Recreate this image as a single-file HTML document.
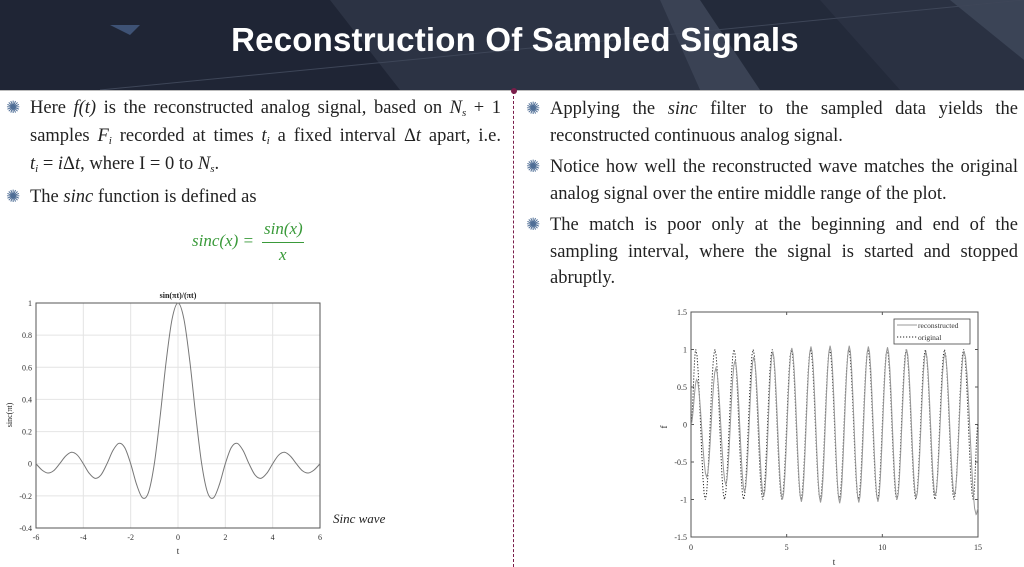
<!DOCTYPE html>
<html><head><meta charset="utf-8">
<style>
html,body{margin:0;padding:0;width:1024px;height:567px;overflow:hidden;background:#fff;font-family:"Liberation Serif",serif;}
#header{position:absolute;left:0;top:0;width:1024px;height:90px;background:#232a3a;overflow:hidden;}
#title{position:absolute;left:0;top:21px;width:1030px;text-align:center;color:#fff;font-family:"Liberation Sans",sans-serif;font-weight:bold;font-size:33px;letter-spacing:0.2px;}
.col{position:absolute;font-size:18.5px;line-height:26.5px;color:#222;text-align:justify;}
.b{position:relative;margin-bottom:5px;}
.ico{position:absolute;left:-24px;top:0;color:#4f6e96;font-size:17px;font-family:"DejaVu Sans",sans-serif;}
sub{font-size:11px;line-height:0;vertical-align:-3px;}
.g{color:#3a9a3a;font-style:italic;}
svg text{font-family:"Liberation Serif",serif;}
</style></head><body>
<div id="header">
<svg width="1024" height="90" style="position:absolute;left:0;top:0">
<polygon points="0,0 330,0 520,90 0,90" fill="#1f2535"/>
<polygon points="110,25 140,25 130,35" fill="#3e5275"/>
<polygon points="330,0 660,0 700,90 400,90" fill="#2c3344"/>
<polygon points="660,0 700,0 760,90 700,90" fill="#3a4254"/>
<polygon points="820,0 1024,0 1024,90 900,90" fill="#2a3142"/>
<polygon points="950,0 1024,0 1024,60" fill="#3b4456"/>
<line x1="100" y1="90" x2="1024" y2="0" stroke="#3e4658" stroke-width="1"/>
</svg>
<div id="title">Reconstruction Of Sampled Signals</div>
</div>
<div style="position:absolute;left:0;top:90px;width:1024px;height:1px;background:#bbb"></div>
<div style="position:absolute;left:513px;top:91px;height:476px;border-left:1.5px dashed #7a1d4a"></div>
<div style="position:absolute;left:511px;top:88px;width:6px;height:6px;border-radius:3px;background:#7a1d4a"></div>

<div class="col" style="left:30px;top:94px;width:471px;line-height:28px">
<div class="b"><span class="ico">✺</span>Here <i>f(t)</i> is the reconstructed analog signal, based on <i>N<sub>s</sub></i> + 1 samples <i>F<sub>i</sub></i> recorded at times <i>t<sub>i</sub></i> a fixed interval Δ<i>t</i> apart, i.e. <span style="white-space:nowrap"><i>t<sub>i</sub></i> = <i>i</i>Δ<i>t</i>,</span> where I = 0 to <i>N<sub>s</sub></i>.</div>
<div class="b"><span class="ico">✺</span>The <i>sinc</i> function is defined as</div>
</div>
<div style="position:absolute;left:192px;top:222px;font-size:17px;" class="g">
<span style="position:absolute;left:0;top:9px;white-space:nowrap">sinc(x) =</span>
<span style="position:absolute;left:72px;top:-3px;white-space:nowrap">sin(x)</span>
<span style="position:absolute;left:70px;top:20px;width:42px;border-top:1px solid #3a9a3a"></span>
<span style="position:absolute;left:87px;top:23px">x</span>
</div>

<div class="col" style="left:550px;top:96px;width:468px">
<div class="b"><span class="ico">✺</span>Applying the <i>sinc</i> filter to the sampled data yields the reconstructed continuous analog signal.</div>
<div class="b"><span class="ico">✺</span>Notice how well the reconstructed wave matches the original analog signal over the entire middle range of the plot.</div>
<div class="b"><span class="ico">✺</span>The match is poor only at the beginning and end of the sampling interval, where the signal is started and stopped abruptly.</div>
</div>
<div style="position:absolute;left:333px;top:511px;font-size:13px;font-style:italic;color:#222">Sinc wave</div>

<svg id="c1" width="1024" height="567" style="position:absolute;left:0;top:0"></svg>

<script>
// ---- Sinc chart data ----
const sincT = [-6,-5.75,-5.5,-5.25,-5,-4.75,-4.5,-4.25,-4,-3.75,-3.5,-3.25,-3,-2.75,-2.5,-2.25,-2,-1.75,-1.5,-1.25,-1,-0.75,-0.5,-0.25,0,0.25,0.5,0.75,1,1.25,1.5,1.75,2,2.25,2.5,2.75,3,3.25,3.5,3.75,4,4.25,4.5,4.75,5,5.25,5.5,5.75,6];
const sincV = [0,-0.039,-0.058,-0.043,0,0.047,0.071,0.053,0,-0.060,-0.091,-0.069,0,0.082,0.127,0.100,0,-0.129,-0.212,-0.180,0,0.300,0.637,0.900,1,0.900,0.637,0.300,0,-0.180,-0.212,-0.129,0,0.100,0.127,0.082,0,-0.069,-0.091,-0.060,0,0.053,0.071,0.047,0,-0.043,-0.058,-0.039,0];
const sincXTicks = [-6,-4,-2,0,2,4,6];
const sincYTicks = [-0.4,-0.2,0,0.2,0.4,0.6,0.8,1];
const sincYLabels = ["-0.4","-0.2","0","0.2","0.4","0.6","0.8","1"];
// ---- Reconstruction chart data ----
const origT = [0,0.25,0.75,1.25,1.75,2.25,2.75,3.25,3.75,4.25,4.75,5.25,5.75,6.25,6.75,7.25,7.75,8.25,8.75,9.25,9.75,10.25,10.75,11.25,11.75,12.25,12.75,13.25,13.75,14.25,14.75,15];
const origV = [0,1,-1,1,-1,1,-1,1,-1,1,-1,1,-1,1,-1,1,-1,1,-1,1,-1,1,-1,1,-1,1,-1,1,-1,1,-1,0];
const recT = [0,0.3,0.82,1.3,1.82,2.3,2.8,3.28,3.8,4.27,4.78,5.27,5.77,6.27,6.77,7.27,7.77,8.27,8.77,9.27,9.77,10.27,10.77,11.27,11.77,12.27,12.77,13.27,13.77,14.27,14.9,15];
const recV = [0,0.6,-0.7,0.75,-0.8,0.85,-0.9,0.9,-0.96,0.97,-1.0,1.02,-1.03,1.04,-1.04,1.05,-1.05,1.05,-1.04,1.04,-1.03,1.03,-1.0,1.0,-0.98,0.97,-0.95,0.95,-0.94,0.98,-1.2,-1.12];
const recXTicks = [0,5,10,15];
const recYTicks = [-1.5,-1,-0.5,0,0.5,1,1.5];
const recYLabels = ["-1.5","-1","-0.5","0","0.5","1","1.5"];

const NS='http://www.w3.org/2000/svg';
const svg=document.getElementById('c1');
function mk(tag,attrs,parent){const e=document.createElementNS(NS,tag);for(const k in attrs)e.setAttribute(k,attrs[k]);(parent||svg).appendChild(e);return e;}

const x1=v=>36+(v+6)/12*(320-36);
const y1=v=>528-(v+0.4)/1.4*(528-303);
sincXTicks.forEach(t=>{
  const l=mk('line',{x1:x1(t),x2:x1(t),y1:303,y2:528,stroke:'#e4e4e4','stroke-width':1});
  
  
  const tx=mk('text',{x:x1(t),y:540,'font-size':8,'text-anchor':'middle',fill:'#333'});tx.textContent=t;
  
  
});
sincYTicks.forEach((t,i)=>{
  const l=mk('line',{x1:36,x2:320,y1:y1(t),y2:y1(t),stroke:'#e4e4e4','stroke-width':1});
  
  
  const tx=mk('text',{x:32,y:y1(t)+3,'font-size':8,'text-anchor':'end',fill:'#333'});tx.textContent=sincYLabels[i];
  
  
});
let r=mk('rect',{x:36,y:303,width:284,height:225,fill:'none',stroke:'#555','stroke-width':1});


function smooth(xs,ys,fx,fy){let d='M'+fx(xs[0])+','+fy(ys[0]);
  for(let i=0;i<xs.length-1;i++){const p0=[fx(xs[Math.max(0,i-1)]),fy(ys[Math.max(0,i-1)])],p1=[fx(xs[i]),fy(ys[i])],p2=[fx(xs[i+1]),fy(ys[i+1])],p3=[fx(xs[Math.min(xs.length-1,i+2)]),fy(ys[Math.min(xs.length-1,i+2)])];
  d+=' C'+(p1[0]+(p2[0]-p0[0])/6)+','+(p1[1]+(p2[1]-p0[1])/6)+' '+(p2[0]-(p3[0]-p1[0])/6)+','+(p2[1]-(p3[1]-p1[1])/6)+' '+p2[0]+','+p2[1];}
  return d;}
let p=mk('path',{d:smooth(sincT,sincV,x1,y1),fill:'none',stroke:'#777','stroke-width':1});


let tt=mk('text',{x:178,y:298,'font-size':8,'font-weight':'bold','text-anchor':'middle',fill:'#222'});tt.textContent='sin(πt)/(πt)';


let xl=mk('text',{x:178,y:554,'font-size':9,'text-anchor':'middle',fill:'#222'});xl.textContent='t';


let yl=mk('text',{x:12,y:415,'font-size':8,'text-anchor':'middle',fill:'#222',transform:'rotate(-90 12 415)'});yl.textContent='sinc(πt)';



const x2=v=>691+v/15*(978-691);
const y2=v=>424.5-v*75;
recXTicks.forEach(t=>{
  mk('line',{x1:x2(t),x2:x2(t),y1:537,y2:534,stroke:'#555'});
  mk('line',{x1:x2(t),x2:x2(t),y1:312,y2:315,stroke:'#555'});
  const tx=mk('text',{x:x2(t),y:550,'font-size':8,'text-anchor':'middle',fill:'#333'});tx.textContent=t;
  
  
});
recYTicks.forEach((t,i)=>{
  mk('line',{x1:691,x2:694,y1:y2(t),y2:y2(t),stroke:'#555'});
  mk('line',{x1:975,x2:978,y1:y2(t),y2:y2(t),stroke:'#555'});
  const tx=mk('text',{x:687,y:y2(t)+3,'font-size':8,'text-anchor':'end',fill:'#333'});tx.textContent=recYLabels[i];
  
  
});
r=mk('rect',{x:691,y:312,width:287,height:225,fill:'none',stroke:'#555','stroke-width':1});


function cosPath(xs,ys,fx,fy){let d='M'+fx(xs[0])+','+fy(ys[0]);
  for(let i=0;i<xs.length-1;i++){for(let k=1;k<=8;k++){const u=k/8;const t=xs[i]+(xs[i+1]-xs[i])*u;const v=ys[i]+(ys[i+1]-ys[i])*(1-Math.cos(Math.PI*u))/2;d+=' L'+fx(t).toFixed(2)+','+fy(v).toFixed(2);}}
  return d;}
p=mk('path',{d:cosPath(origT,origV,x2,y2),fill:'none',stroke:'#222','stroke-width':1,'stroke-dasharray':'1.2,1.8'});


p=mk('path',{d:cosPath(recT,recV,x2,y2),fill:'none',stroke:'#999','stroke-width':1});


const lg=mk('g',{});


mk('rect',{x:894,y:319,width:76,height:25,fill:'#fff',stroke:'#444','stroke-width':0.8},lg);
mk('line',{x1:897,x2:917,y1:325,y2:325,stroke:'#999'},lg);
mk('line',{x1:897,x2:917,y1:337,y2:337,stroke:'#222','stroke-dasharray':'1.2,1.8'},lg);
let lt=mk('text',{x:918,y:328,'font-size':7.5,fill:'#333'},lg);lt.textContent='reconstructed';


lt=mk('text',{x:918,y:340,'font-size':7.5,fill:'#333'},lg);lt.textContent='original';


xl=mk('text',{x:834,y:565,'font-size':9,'text-anchor':'middle',fill:'#222'});xl.textContent='t';


yl=mk('text',{x:667,y:427,'font-size':9,'text-anchor':'middle',fill:'#222',transform:'rotate(-90 667 427)'});yl.textContent='f';


</script>
</body></html>
